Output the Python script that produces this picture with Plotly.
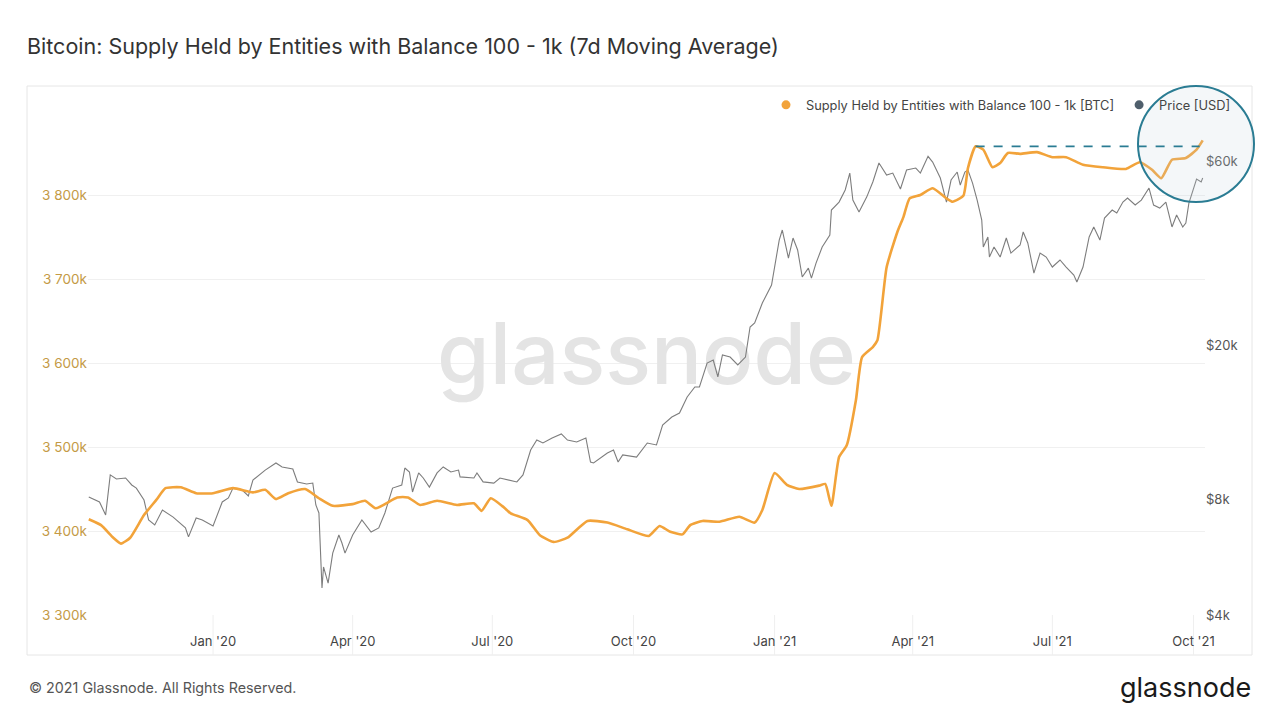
import plotly.graph_objects as go
import math
from datetime import datetime

# ---------------- data ----------------
supply_dates = [
    "2019-10-12", "2019-10-20", "2019-10-28", "2019-11-02", "2019-11-08", "2019-11-17", "2019-11-25",
    "2019-12-01", "2019-12-11", "2019-12-21", "2020-01-01", "2020-01-14", "2020-01-27", "2020-02-04",
    "2020-02-11", "2020-02-19", "2020-03-01", "2020-03-10", "2020-03-19", "2020-04-01", "2020-04-09",
    "2020-04-16", "2020-04-30", "2020-05-07", "2020-05-15", "2020-05-26", "2020-06-08", "2020-06-19",
    "2020-06-24", "2020-06-30", "2020-07-08", "2020-07-13", "2020-07-24", "2020-08-01", "2020-08-10",
    "2020-08-19", "2020-09-01", "2020-09-14", "2020-09-27", "2020-10-11", "2020-10-18", "2020-10-25",
    "2020-11-02", "2020-11-07", "2020-11-15", "2020-11-26", "2020-12-09", "2020-12-19", "2020-12-24",
    "2021-01-01", "2021-01-09", "2021-01-17", "2021-01-30", "2021-02-03", "2021-02-07", "2021-02-12",
    "2021-02-17", "2021-02-23", "2021-02-27", "2021-03-06", "2021-03-09", "2021-03-15", "2021-03-22",
    "2021-03-26", "2021-03-30", "2021-04-06", "2021-04-14", "2021-04-23", "2021-04-27", "2021-05-04",
    "2021-05-07", "2021-05-12", "2021-05-17", "2021-05-23", "2021-05-28", "2021-06-02", "2021-06-10",
    "2021-06-21", "2021-07-01", "2021-07-10", "2021-07-21", "2021-08-03", "2021-08-18", "2021-08-27",
    "2021-09-04", "2021-09-10", "2021-09-17", "2021-09-26", "2021-10-03", "2021-10-07",
]
supply_values = [
    3414, 3407, 3392, 3385, 3392, 3419, 3437,
    3451, 3452, 3445, 3445, 3451, 3446, 3449,
    3438, 3445, 3450, 3439, 3430, 3432, 3436,
    3427, 3440, 3440, 3431, 3436, 3431, 3433,
    3424, 3439, 3429, 3421, 3413, 3395, 3387,
    3392, 3412, 3410, 3402, 3394, 3406, 3399,
    3396, 3407, 3412, 3411, 3417, 3410, 3425,
    3469, 3455, 3450, 3454, 3456, 3430, 3488,
    3502, 3556, 3607, 3619, 3627, 3714, 3756,
    3774, 3796, 3800, 3808, 3796, 3792, 3799,
    3832, 3858, 3854, 3833, 3838, 3850, 3849,
    3851, 3845, 3845, 3836, 3833, 3831, 3839,
    3830, 3820, 3842, 3844, 3854, 3865,
]

price_dates = [
    "2019-10-12", "2019-10-19", "2019-10-23", "2019-10-26", "2019-10-30", "2019-11-05", "2019-11-09",
    "2019-11-12", "2019-11-17", "2019-11-20", "2019-11-24", "2019-11-29", "2019-12-06", "2019-12-10",
    "2019-12-14", "2019-12-16", "2019-12-21", "2019-12-25", "2020-01-01", "2020-01-07", "2020-01-11",
    "2020-01-14", "2020-01-20", "2020-01-24", "2020-01-27", "2020-02-04", "2020-02-11", "2020-02-15",
    "2020-02-22", "2020-02-25", "2020-03-02", "2020-03-06", "2020-03-08", "2020-03-10", "2020-03-12",
    "2020-03-13", "2020-03-16", "2020-03-19", "2020-03-23", "2020-03-25", "2020-03-27", "2020-04-01",
    "2020-04-07", "2020-04-13", "2020-04-18", "2020-04-22", "2020-04-27", "2020-05-03", "2020-05-05",
    "2020-05-08", "2020-05-10", "2020-05-14", "2020-05-17", "2020-05-21", "2020-05-26", "2020-05-30",
    "2020-06-04", "2020-06-09", "2020-06-10", "2020-06-19", "2020-06-21", "2020-06-25", "2020-07-02",
    "2020-07-06", "2020-07-17", "2020-07-21", "2020-07-26", "2020-07-30", "2020-08-03", "2020-08-09",
    "2020-08-15", "2020-08-19", "2020-08-25", "2020-08-31", "2020-09-03", "2020-09-05", "2020-09-14",
    "2020-09-18", "2020-09-21", "2020-09-24", "2020-10-03", "2020-10-10", "2020-10-16", "2020-10-20",
    "2020-10-26", "2020-10-31", "2020-11-05", "2020-11-10", "2020-11-13", "2020-11-18", "2020-11-22",
    "2020-11-25", "2020-11-28", "2020-12-03", "2020-12-08", "2020-12-13", "2020-12-16", "2020-12-19",
    "2020-12-24", "2020-12-30", "2021-01-01", "2021-01-04", "2021-01-06", "2021-01-10", "2021-01-13",
    "2021-01-16", "2021-01-19", "2021-01-23", "2021-01-25", "2021-01-28", "2021-02-01", "2021-02-06",
    "2021-02-07", "2021-02-12", "2021-02-16", "2021-02-19", "2021-02-21", "2021-02-25", "2021-03-02",
    "2021-03-06", "2021-03-10", "2021-03-15", "2021-03-19", "2021-03-24", "2021-03-28", "2021-04-03",
    "2021-04-06", "2021-04-11", "2021-04-14", "2021-04-19", "2021-04-23", "2021-04-26", "2021-04-30",
    "2021-05-02", "2021-05-05", "2021-05-07", "2021-05-10", "2021-05-13", "2021-05-16", "2021-05-17",
    "2021-05-20", "2021-05-21", "2021-05-24", "2021-05-28", "2021-06-01", "2021-06-04", "2021-06-10",
    "2021-06-12", "2021-06-15", "2021-06-19", "2021-06-23", "2021-06-27", "2021-07-01", "2021-07-06",
    "2021-07-10", "2021-07-15", "2021-07-17", "2021-07-21", "2021-07-25", "2021-07-28", "2021-08-01",
    "2021-08-04", "2021-08-09", "2021-08-12", "2021-08-16", "2021-08-19", "2021-08-24", "2021-08-28",
    "2021-09-02", "2021-09-05", "2021-09-09", "2021-09-13", "2021-09-17", "2021-09-20", "2021-09-24",
    "2021-09-26", "2021-09-28", "2021-10-03", "2021-10-06", "2021-10-07",
]
price_values = [
    8100, 7860, 7270, 9240, 9020, 9070, 8700,
    8540, 7950, 7060, 6850, 7490, 7180, 6930,
    6730, 6380, 7140, 7060, 6810, 7860, 8050,
    8540, 8440, 8150, 8960, 9510, 9920, 9690,
    9570, 8860, 8750, 8800, 7720, 7360, 4700,
    5330, 4840, 5790, 6450, 6150, 5790, 6450,
    7060, 6570, 6730, 7360, 8540, 8700, 9630,
    9400, 8340, 9350, 9070, 8590, 9350, 9690,
    9400, 9510, 9130, 9070, 9350, 8860, 8800,
    9070, 8860, 9240, 10720, 11380, 11180, 11520,
    11800, 11380, 11250, 11520, 9980, 9920, 10530,
    10720, 9980, 10410, 10280, 11180, 11050, 12450,
    13060, 13370, 14720, 15630, 15630, 18030, 18360,
    16590, 18920, 18690, 17820, 18690, 22360, 22900,
    25810, 28740, 32000, 37600, 39920, 33770, 38060,
    35430, 30150, 31800, 29960, 32760, 36060, 38750,
    44990, 47180, 50710, 56110, 47740, 44460, 48600,
    53180, 59570, 55450, 56110, 51010, 57130, 57810,
    56110, 62000, 59920, 54470, 47180, 53820, 56450,
    52230, 56450, 57130, 52860, 47740, 42370, 36060,
    38290, 33970, 36060, 33970, 38060, 34790, 36500,
    39450, 36940, 30870, 34790, 33970, 32000, 33370,
    32000, 30510, 29260, 32000, 38290, 40650, 37600,
    42880, 44990, 44190, 47180, 48320, 46350, 47740,
    51310, 46350, 45520, 47180, 40650, 43670, 40650,
    41620, 46900, 54150, 53180, 54470,
]

x_tick_dates = ["2020-01-01", "2020-04-01", "2020-07-01", "2020-10-01",
                "2021-01-01", "2021-04-01", "2021-07-01", "2021-10-01"]
x_tick_labels = ["Jan '20", "Apr '20", "Jul '20", "Oct '20",
                 "Jan '21", "Apr '21", "Jul '21", "Oct '21"]
supply_ticks = [3300, 3400, 3500, 3600, 3700, 3800, 3900]
supply_tick_labels = ["3 300k", "3 400k", "3 500k", "3 600k", "3 700k", "3 800k", ""]
price_ticks = [4000, 8000, 20000, 60000]
price_tick_labels = ["$4k", "$8k", "$20k", "$60k"]

TITLE = "Bitcoin: Supply Held by Entities with Balance 100 - 1k (7d Moving Average)"
SUPPLY_NAME = "Supply Held by Entities with Balance 100 - 1k [BTC]"
PRICE_NAME = "Price [USD]"

# ---------------- style ----------------
ORANGE = "#F2A33A"
GRAY = "#7d7d7d"
TEAL = "#2a7c93"
FONT = "Inter, Roboto, 'Open Sans', sans-serif"

x_range = ["2019-10-11 12:00", "2021-10-08 12:00"]
supply_range = [3300, 3900]
price_range = [math.log10(4000), math.log10(81300)]

# page layout (page pixels); the figure div sits 8px in from the page edge
OFF = 8
W, H = 1280, 720
PL, PR, PT, PB = 88, 1205, 111, 615          # plot area in page pixels
L, T = PL - OFF, PT - OFF
R, B = W - (PR - OFF), H - (PB - OFF)
pw, ph = PR - PL, PB - PT


def px(xp):
    return (xp - PL) / pw


def py(yp):
    return (PB - yp) / ph


fig = go.Figure()

# watermark (drawn first, under the lines)
x0d = datetime.fromisoformat(x_range[0])
x1d = datetime.fromisoformat(x_range[1])
mid_x = x0d + (x1d - x0d) / 2
mid_y = 10 ** ((price_range[0] + price_range[1]) / 2)
fig.add_trace(go.Scatter(
    x=[mid_x], y=[mid_y], mode="text", text=["glassnode"],
    textfont=dict(family=FONT, size=85, color="#e4e4e4", weight=500),
    textposition="middle center", showlegend=False, hoverinfo="skip", yaxis="y",
))

fig.add_trace(go.Scatter(
    x=price_dates, y=price_values, mode="lines", name=PRICE_NAME,
    line=dict(color=GRAY, width=1.1), yaxis="y", showlegend=False,
))
fig.add_trace(go.Scatter(
    x=supply_dates, y=supply_values, mode="lines", name=SUPPLY_NAME,
    line=dict(color=ORANGE, width=2.6, shape="spline", smoothing=0.5), yaxis="y2", showlegend=False,
))

# legend entries (dots)
fig.add_trace(go.Scatter(x=[None], y=[None], mode="markers", name=SUPPLY_NAME,
                         marker=dict(color=ORANGE, size=9), yaxis="y2"))
fig.add_trace(go.Scatter(x=[None], y=[None], mode="markers", name=PRICE_NAME,
                         marker=dict(color="#4f5f6c", size=9), yaxis="y"))

# dashed line at the May 2021 peak level
cut = supply_dates.index("2021-06-02")
peak_val = max(supply_values[:cut])
peak_date = supply_dates[supply_values.index(peak_val)]

shapes = [
    dict(type="rect", xref="paper", yref="paper", x0=px(27), x1=px(1252), y0=py(655), y1=py(86),
         line=dict(color="#e6e6e6", width=1), fillcolor="rgba(0,0,0,0)", layer="below"),
    dict(type="circle", xref="paper", yref="paper", x0=px(1138), x1=px(1254), y0=py(202), y1=py(86),
         line=dict(color=TEAL, width=2), fillcolor="rgba(195,212,222,0.18)", layer="above"),
    dict(type="line", xref="x", yref="y2", x0=peak_date, x1="2021-10-05", y0=peak_val, y1=peak_val,
         line=dict(color=TEAL, width=1.8, dash="dash")),
]
for d in x_tick_dates:
    shapes.append(dict(type="line", xref="x", yref="paper", x0=d, x1=d, y0=py(655), y1=0,
                       line=dict(color="#efefef", width=1), layer="below"))

fig.update_layout(
    width=W, height=H,
    margin=dict(l=L, r=R, t=T, b=B),
    paper_bgcolor="white", plot_bgcolor="white",
    font=dict(family=FONT, color="#444"),
    title=dict(text=TITLE, xref="container", yref="container", x=(27 - OFF) / W, xanchor="left",
               y=1 - (46 - OFF) / H, yanchor="middle", font=dict(size=21.5, color="#333", family=FONT)),
    xaxis=dict(
        type="date", range=x_range, tickvals=x_tick_dates, ticktext=x_tick_labels,
        showgrid=False, zeroline=False, showline=False,
        ticks="outside", ticklen=14, tickcolor="rgba(0,0,0,0)",
        tickfont=dict(size=13, color="#444"),
    ),
    yaxis=dict(
        type="log", range=price_range, side="right", tickvals=price_ticks, ticktext=price_tick_labels,
        showgrid=False, zeroline=False, showline=False, ticks="",
        tickfont=dict(size=13, color="#555"),
    ),
    yaxis2=dict(
        overlaying="y", side="left", range=supply_range, tickvals=supply_ticks,
        ticktext=supply_tick_labels, showgrid=True, gridcolor="#f0f0f0", gridwidth=1,
        zeroline=False, showline=False, ticks="",
        tickfont=dict(size=13.5, color="#c49a45"),
    ),
    legend=dict(orientation="h", x=px(1236), xanchor="right", y=py(105), yanchor="middle",
                font=dict(size=12.8, color="#444"), bgcolor="rgba(0,0,0,0)", itemwidth=30,
                traceorder="normal"),
    shapes=shapes,
    annotations=[
        dict(text="© 2021 Glassnode. All Rights Reserved.", xref="paper", yref="paper",
             x=px(27), y=py(688), xanchor="left", yanchor="middle", showarrow=False,
             font=dict(size=14.3, color="#555", family=FONT)),
        dict(text="glassnode", xref="paper", yref="paper",
             x=px(1253), y=py(687), xanchor="right", yanchor="middle", showarrow=False,
             font=dict(size=27, color="#1a1a1a", family=FONT)),
    ],
    showlegend=True,
)

fig.write_html("out.html")
